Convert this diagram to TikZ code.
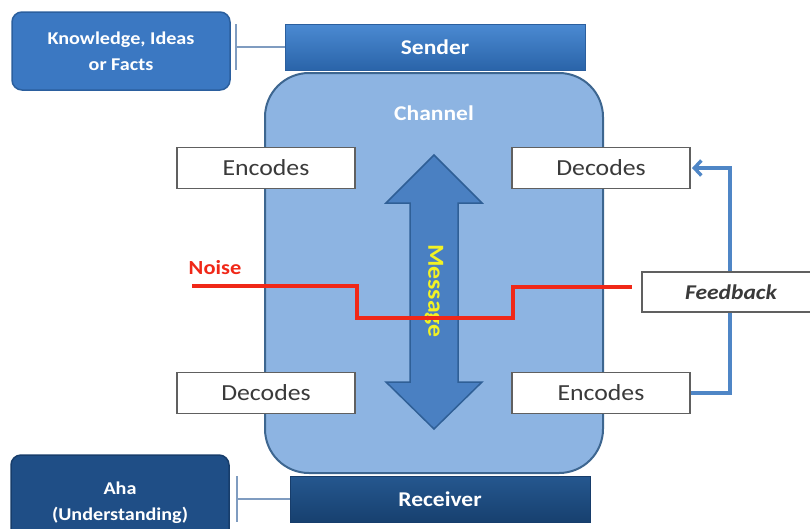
\documentclass[tikz,border=0pt]{standalone}
\usepackage{fontspec}
\setmainfont{Carlito}[FakeStretch=1.12]
\usetikzlibrary{arrows.meta}
\definecolor{knowfill}{HTML}{3B78C2}
\definecolor{knowdraw}{HTML}{2B5F9E}
\definecolor{sendtop}{HTML}{4B8AD2}
\definecolor{sendbot}{HTML}{2A64A9}
\definecolor{chanfill}{HTML}{8DB4E2}
\definecolor{chandraw}{HTML}{3D6690}
\definecolor{arrfill}{HTML}{4A80C2}
\definecolor{arrdraw}{HTML}{2F5F96}
\definecolor{ahafill}{HTML}{1F4E86}
\definecolor{ahadraw}{HTML}{173D6B}
\definecolor{rectop}{HTML}{25578F}
\definecolor{recbot}{HTML}{17406F}
\definecolor{fbblue}{HTML}{4F86C6}
\definecolor{noisered}{HTML}{F02818}
\definecolor{msgyellow}{HTML}{F2F224}
\definecolor{brackcol}{HTML}{7F9CC0}
\definecolor{boxgray}{HTML}{606060}
\definecolor{textgray}{HTML}{3A3A3A}
\begin{document}
\begin{tikzpicture}[x=1pt,y=-1pt,
  whitebox/.style={draw=boxgray, line width=1.2pt, fill=white, minimum width=178pt,
    minimum height=41pt, inner sep=0pt, text=textgray, font=\fontsize{23}{24}\selectfont},
  infobox/.style={rounded corners=10pt, line width=1.5pt, minimum width=218pt,
    text=white, align=center, inner sep=0pt, font=\bfseries\fontsize{18}{26}\selectfont},
  barbox/.style={minimum width=300pt, minimum height=46pt, inner sep=0pt, text=white,
    font=\bfseries\fontsize{21}{24}\selectfont},
  bracket/.style={draw=brackcol, line width=1.5pt},
  noiseline/.style={draw=noisered, line width=3.8pt},
  fbline/.style={draw=fbblue, line width=3.4pt}]
\useasboundingbox (0,0) rectangle (810,528);

% channel
\node[draw=chandraw, fill=chanfill, line width=2pt, rounded corners=44pt,
  minimum width=338pt, minimum height=400pt, inner sep=0pt] (channel) at (434,273) {};
\node[text=white, font=\bfseries\fontsize{21}{24}\selectfont] (chanlabel) at (434,113) {Channel};

% sender / receiver
\node[barbox, top color=sendtop, bottom color=sendbot, draw=knowdraw, line width=1pt] (sender) at (435,47) {Sender};
\node[barbox, top color=rectop, bottom color=recbot, draw=ahadraw, line width=1pt] (receiver) at (440,499) {Receiver};

% info boxes
\node[infobox, fill=knowfill, draw=knowdraw, minimum height=78pt] (know) at (121,51) {Knowledge, Ideas\\or Facts};
\node[infobox, fill=ahafill, draw=ahadraw, minimum height=96pt] (aha) at (120,503) {Aha\\(Understanding)};

% brackets
\coordinate (kt) at (236,47);
\coordinate (at) at (237,499);
\draw[bracket] (236,24) -- (236,70);
\draw[bracket] (kt) -- (sender.west);
\draw[bracket] (237,476) -- (237,522);
\draw[bracket] (at) -- (receiver.west);

% message double arrow
\draw[fill=arrfill, draw=arrdraw, line width=1.5pt, line join=miter]
  (434,155) -- (482,203) -- (458,203) -- (458,382) -- (482,382) -- (434,429)
  -- (386,382) -- (410,382) -- (410,203) -- (386,203) -- cycle;
\node[rotate=-90, text=msgyellow, font=\bfseries\fontsize{23}{24}\selectfont] (msg) at (434,291) {Message};

% feedback loop line (under boxes)
\coordinate (fbx) at (730,280);
\draw[fbline, -{Straight Barb[length=7pt,width=15pt]}] (601,393) -- (fbx |- 0,393) -- (fbx |- 0,168) -- (692,168);

% white boxes
\node[whitebox] (enc1) at (266,168) {Encodes};
\node[whitebox] (dec1) at (601,168) {Decodes};
\node[whitebox] (dec2) at (266,393) {Decodes};
\node[whitebox] (enc2) at (601,393) {Encodes};
\node[whitebox, minimum height=40pt, font=\bfseries\itshape\fontsize{21}{24}\selectfont] (feedback) at (731,292) {Feedback};

% noise
\node[text=noisered, font=\bfseries\fontsize{20}{22}\selectfont] (noise) at (215,268) {Noise};
\coordinate (n0) at (192,286);
\coordinate (n1) at (632,287);
\draw[noiseline] (n0) -- (357,286) -- (357,318) -- (513,318) -- (513,287) -- (n1);
\end{tikzpicture}
\end{document}
